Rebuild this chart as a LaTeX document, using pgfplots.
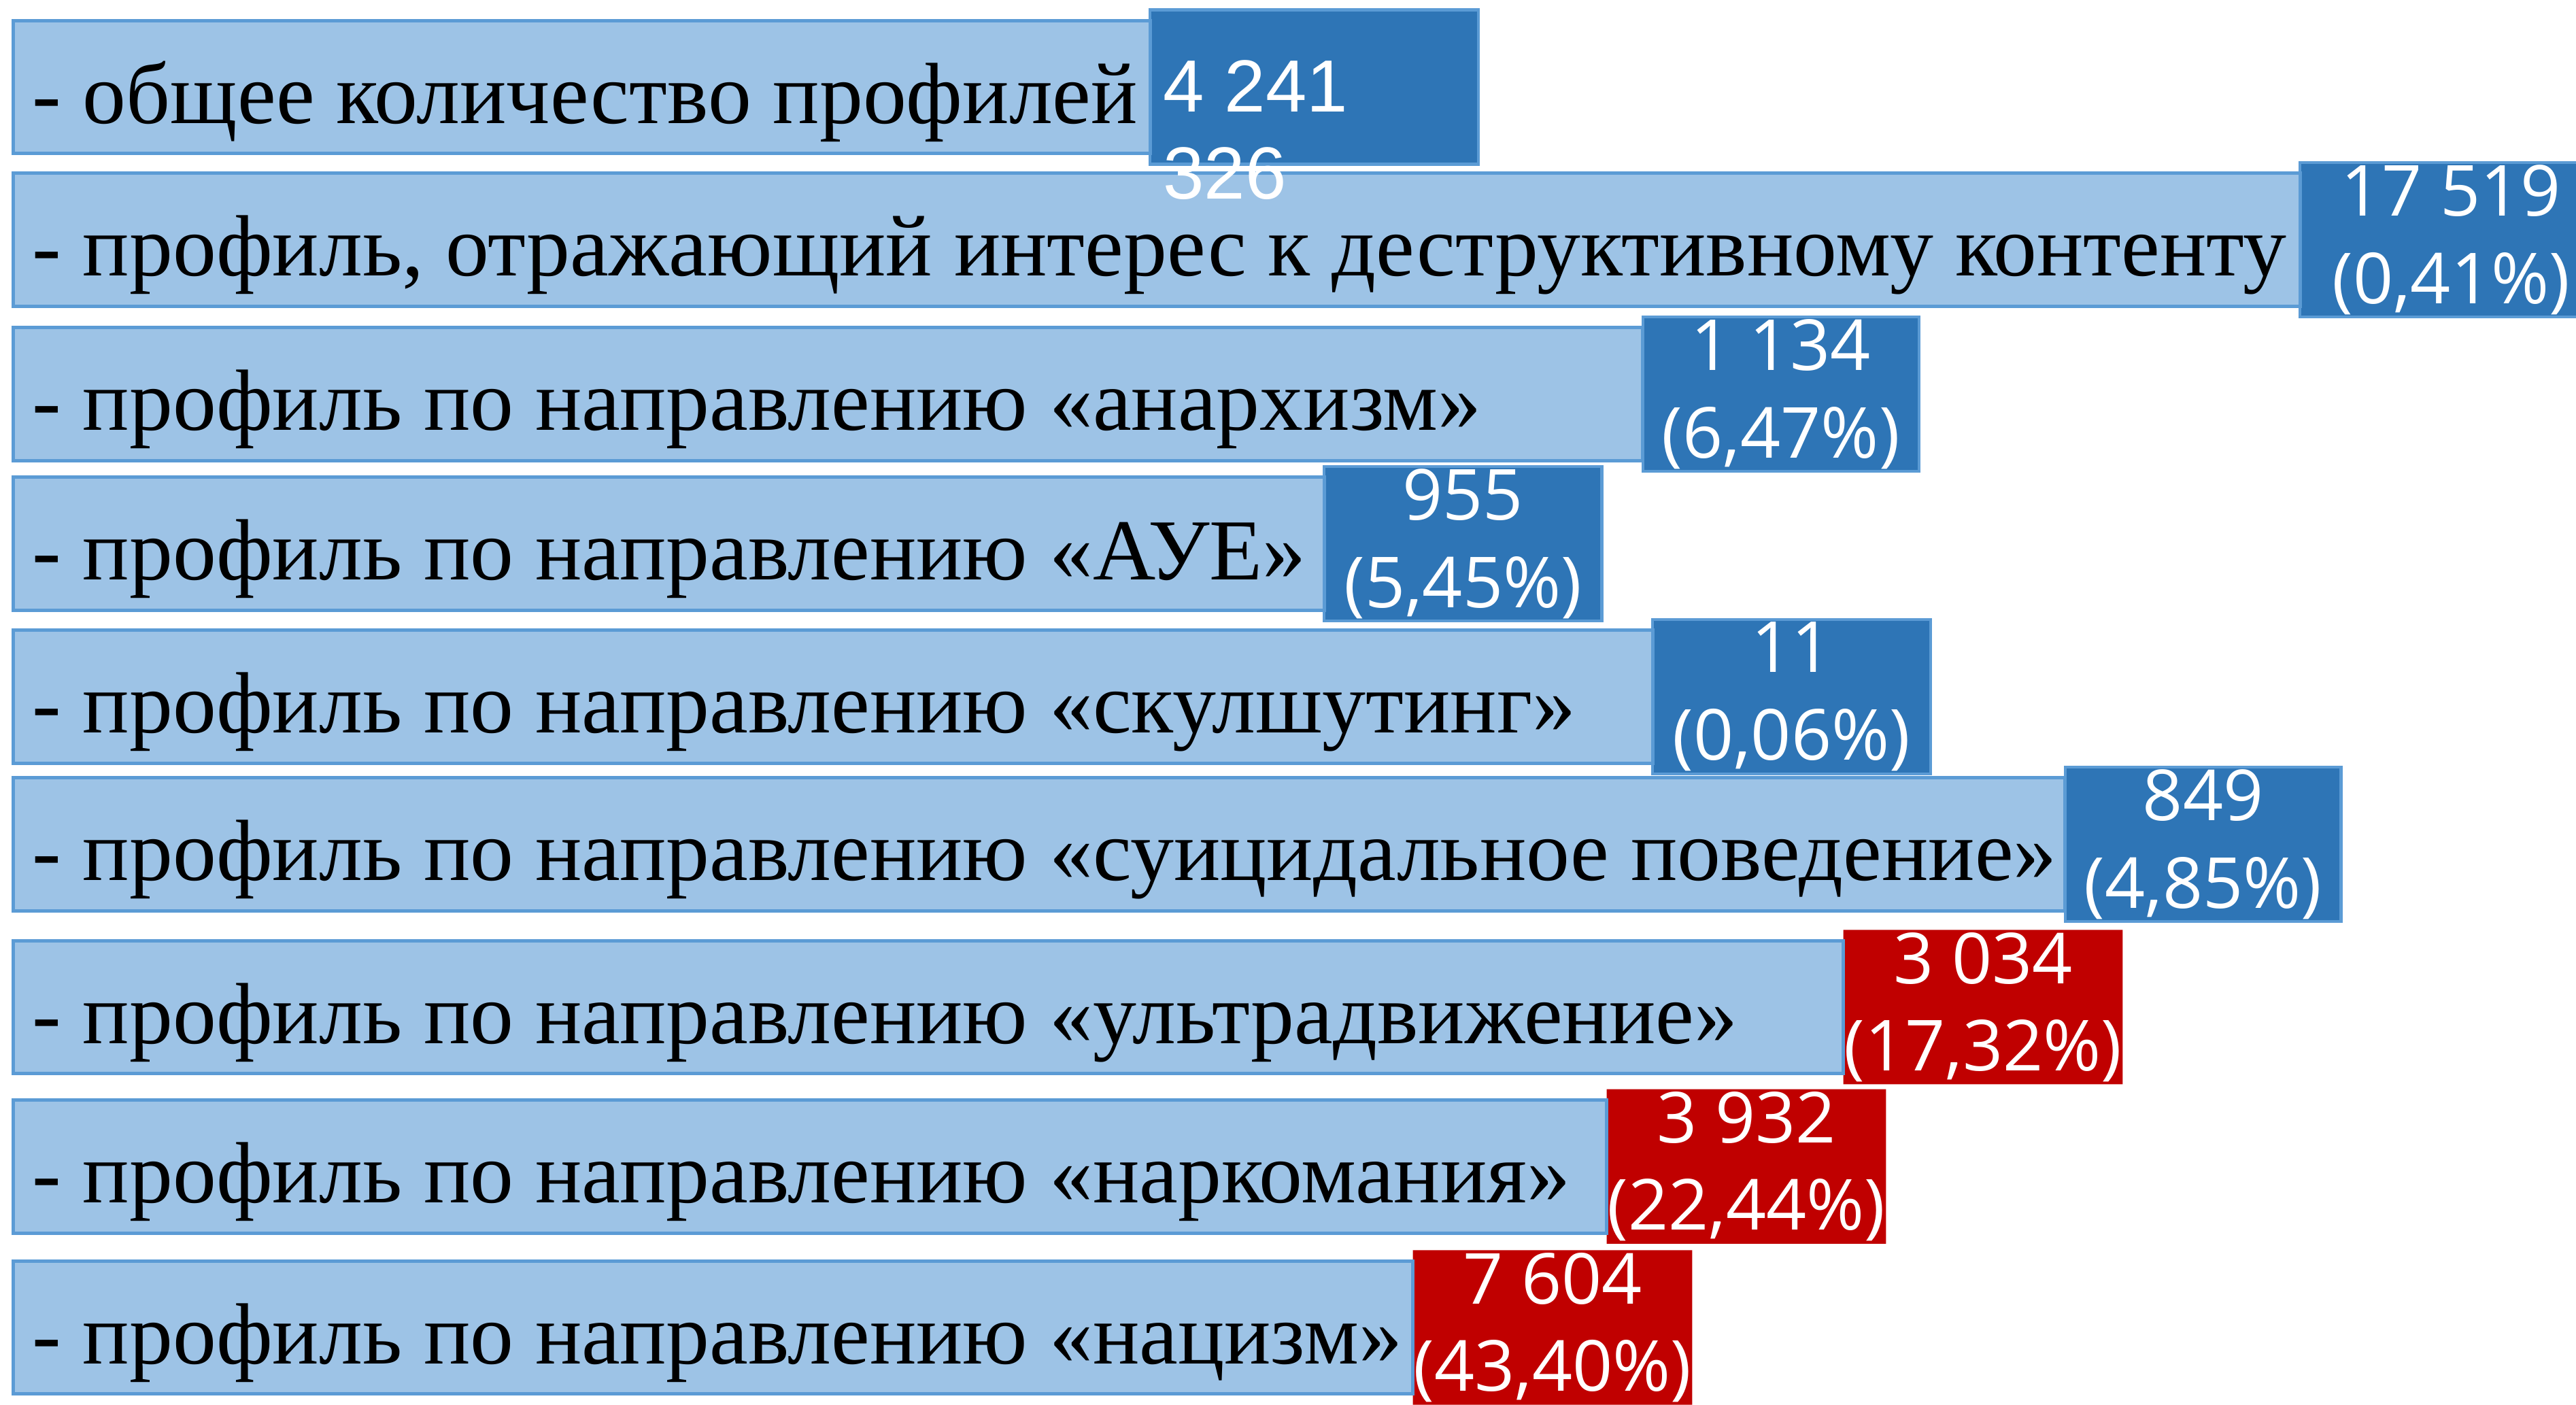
\documentclass[border=0pt]{standalone}
\usepackage{fontspec}
\setmainfont{Liberation Serif}
\newfontfamily\valfont{Open Sans}
\newfontfamily\arialfont{Liberation Sans}
\usepackage{pgfplots}
\pgfplotsset{compat=1.18}

\definecolor{barlight}{HTML}{9DC3E6}
\definecolor{barline}{HTML}{5B9BD5}
\definecolor{boxblue}{HTML}{2E75B6}
\definecolor{boxred}{HTML}{C00000}

% first value is set left-aligned and runs out of its box
\DeclareRobustCommand{\lefttwo}[2]{\raisebox{-0.15cm}[0pt][0pt]{\makebox[0pt][l]{\hspace*{-0.92cm}\arialfont\fontsize{12.8}{15.1}\selectfont\begin{tabular}[t]{@{}l@{}}#1\\#2\end{tabular}}}}

\begin{document}
\begin{tikzpicture}
\begin{axis}[
    xbar stacked,
    scale only axis,
    axis on top,
    width=15.84cm, height=8.55cm,
    xmin=-8, xmax=1576,
    ymin=0, ymax=855,
    y dir=reverse,
    axis line style={draw=none},
    major tick length=0pt,
    xtick=\empty,
    ytick={53,146,240,331,424,514,613,710,808},
    yticklabels={
        - общее количество профилей,
        {- профиль, отражающий интерес к деструктивному контенту},
        - профиль по направлению «анархизм»,
        - профиль по направлению «АУЕ»,
        - профиль по направлению «скулшутинг»,
        - профиль по направлению «суицидальное поведение»,
        - профиль по направлению «ультрадвижение»,
        - профиль по направлению «наркомания»,
        - профиль по направлению «нацизм»},
    yticklabel style={anchor=base west, inner sep=0pt, xshift=0.19cm, yshift=-0.22cm,
        font=\fontsize{15.05}{18}\selectfont},
    every node near coord/.append style={anchor=center, text=white,
        align=center, font=\valfont\fontsize{12.2}{15.1}\selectfont},
]
% label bars
\addplot[fill=barlight, draw=barline, line width=0.6pt, bar width=81] coordinates {
    (692,53) (1392,146) (992,240) (798,331) (998,424) (1249,514) (1114,613) (970,710) (852,808)
};
% values, blue boxes
\addplot[fill=boxblue, draw=barline, line width=0.5pt, bar width=94,
    point meta=explicit symbolic, nodes near coords] coordinates {
    (200,53) [\lefttwo{4 241}{326}]
    (184,146) [{17 519\\(0,41\%)}]
    (168,240) [{1 134\\(6,47\%)}]
    (169,331) [{955\\(5,45\%)}]
    (169,424) [{11\\(0,06\%)}]
    (168,514) [{849\\(4,85\%)}]
    (0,613) [{}]
    (0,710) [{}]
    (0,808) [{}]
};
% values, red boxes
\addplot[fill=boxred, draw=none, bar width=94,
    point meta=explicit symbolic, nodes near coords] coordinates {
    (0,53) [{}]
    (0,146) [{}]
    (0,240) [{}]
    (0,331) [{}]
    (0,424) [{}]
    (0,514) [{}]
    (170,613) [{3 034\\(17,32\%)}]
    (170,710) [{3 932\\(22,44\%)}]
    (170,808) [{7 604\\(43,40\%)}]
};
\end{axis}
\pgfresetboundingbox
\useasboundingbox (current axis.south west) rectangle ([xshift=-0.16cm]current axis.north east);
\end{tikzpicture}
\end{document}
